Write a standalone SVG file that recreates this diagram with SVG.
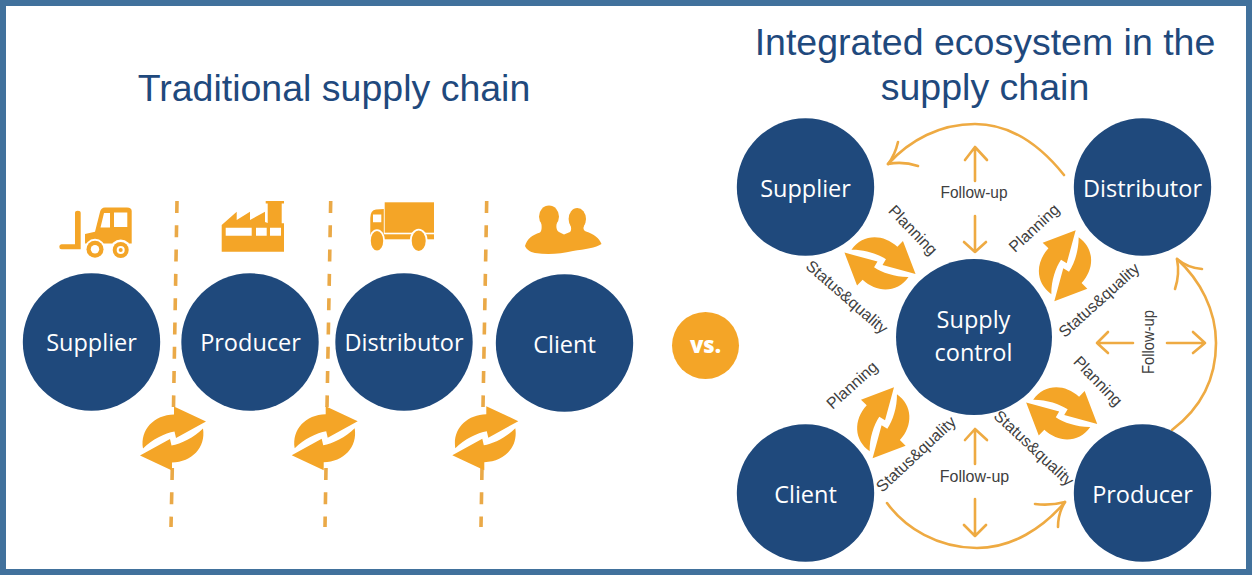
<svg xmlns="http://www.w3.org/2000/svg" width="1252" height="575" viewBox="0 0 1252 575">
  <style>
    .title { font: 37.5px "Liberation Sans", Arial, sans-serif; fill: #1f497d; text-anchor: middle; }
    .disc { fill: #1f497c; }
    .name { font: 23.5px "Open Sans", "Noto Sans", sans-serif; fill: #fff; text-anchor: middle; }
    .ico { fill: #f4a527; }
    .hole { fill: #fff; }
    .dash { fill: none; stroke: #eaa947; stroke-width: 3.6; stroke-dasharray: 12 12.3; }
    .line { fill: none; stroke: #eeaa42; stroke-width: 2.6; stroke-linecap: round; stroke-linejoin: round; }
    .lab { font: 16px "Liberation Sans", Arial, sans-serif; fill: #404040; text-anchor: middle; }
  </style>
  <defs>
    <!-- two interlocked arrows, centred on the origin -->
    <g id="cycle">
      <path id="half" class="ico" d="M-30 10C-33 -9 -19 -23.500 1 -24L1 -32L33 -17L3 -0.500L1.500 -7C-8 -5.500 -21 1 -30 10Z"/>
      <use href="#half" transform="rotate(180)"/>
    </g>
  </defs>

  <rect x="3" y="3" width="1246" height="569" fill="#fff" stroke="#41719c" stroke-width="6"/>

  <text class="title" x="334" y="101">Traditional supply chain</text>
  <text class="title" x="985" y="55">Integrated ecosystem in the</text>
  <text class="title" x="985" y="100">supply chain</text>

  <!-- dashed separators of the linear chain -->
  <g id="separators">
    <path class="dash" d="M177 201L173.500 407"/>
    <path class="dash" d="M172.300 468L171 527"/>
    <path class="dash" d="M330.700 201L327 407"/>
    <path class="dash" d="M326 468L325 527"/>
    <path class="dash" d="M486.700 201L483 407"/>
    <path class="dash" d="M482 468L481 527"/>
  </g>

  <g id="icon-forklift" class="ico">
    <path d="M75 213Q75 210.700 77.800 210.700Q80.700 210.700 80.700 213V249.300H61.500Q59.300 249.300 59.300 246.800Q59.300 244.300 61.500 244.300H75Z"/>
    <path fill-rule="evenodd" d="M85 234L95 231.700L100 212Q101 207.500 105 207.500H127Q131.700 207.500 131.700 211V243.500L85 243.500ZM100.500 227.500H110V213H104ZM114 227H127.300V212.500H114Z"/>
    <circle class="hole" cx="95" cy="249.300" r="10.500"/>
    <circle class="hole" cx="120.700" cy="250" r="10.500"/>
    <circle cx="95" cy="249.300" r="8.500"/>
    <circle class="hole" cx="95" cy="249.300" r="4.200"/>
    <circle cx="120.700" cy="250" r="8"/>
    <circle class="hole" cx="120.700" cy="250" r="4"/>
    <circle cx="120.700" cy="250" r="2"/>
  </g>
  <g id="icon-factory">
    <path class="ico" fill-rule="evenodd" d="M221.700 225L236.700 211.700V220L250 211.700V220L265 211.700V222L267.700 223V203.500H265.700V201H284V203.500H281.700V223.300H284V251.700H221.700ZM225.700 227.700V235.700H251.700V227.700ZM256 227.700V235.700H266.700V227.700ZM270 227.700V235.700H281V227.700Z"/>
  </g>
  <g id="icon-truck" class="ico">
    <rect x="384.700" y="202.300" width="49.300" height="30.400"/>
    <rect x="372" y="234.300" width="62" height="5"/>
    <path fill-rule="evenodd" d="M370.300 237V218Q370.300 210 376 209.500L383.800 209V237ZM373 214.500V222.300H381.300V214.500Z"/>
    <ellipse class="hole" cx="377" cy="240.700" rx="8" ry="11.500"/>
    <ellipse class="hole" cx="418.700" cy="240.700" rx="9" ry="12"/>
    <ellipse cx="377" cy="240.700" rx="6.200" ry="9.800"/>
    <ellipse cx="418.700" cy="240.700" rx="7" ry="10.300"/>
  </g>
  <g id="icon-people" class="ico">
    <ellipse cx="549" cy="216.500" rx="10" ry="11"/>
    <ellipse cx="577.300" cy="219" rx="8.700" ry="11"/>
    <path d="M525 246C527 239 532 235 540 232.500C542 231 542 226 541 222H557C556 226 556 230 559 232L564 234.500L570 232C572 230 571 226 570 224H584.500C583 228 583 230 586 231.500C594 234 599 238 601.500 244C596 248 585 249 573 251C560 254 548 255 535 253C530 252 526 249 525 246Z"/>
  </g>

  <!-- arrows shared by the two sides of the chain and the ecosystem ring -->
  <g id="connectors">
    <use href="#cycle" transform="translate(173 438.500)"/>
    <use href="#cycle" transform="translate(324.700 438.300)"/>
    <use href="#cycle" transform="translate(485.300 438.200)"/>
    <use href="#cycle" transform="translate(880 263.300) rotate(44)"/>
    <use href="#cycle" transform="translate(1065 265.700) rotate(-46)"/>
    <use href="#cycle" transform="translate(883.300 422.700) rotate(-46)"/>
    <use href="#cycle" transform="translate(1061.700 413.300) rotate(44)"/>

    <path class="line" d="M1064 175C1040 145 1010 124 975 124C940 124 910 140 888 164"/>
    <path class="line" d="M898 142Q895 155 888 164Q903 161 918 166"/>
    <path class="line" d="M887 503C905 528 938 548 977 548C1012 548 1043 528 1065 502"/>
    <path class="line" d="M1035 504Q1050 506 1065 502Q1058 513 1058 527"/>
    <path class="line" d="M1172 430C1205 405 1216 375 1216 343C1216 310 1200 280 1177 259"/>
    <path class="line" d="M1202 269Q1188 268 1177 259Q1180 274 1175 289"/>

    <path class="line" d="M975 181V147M965 160L975 147L987 160"/>
    <path class="line" d="M975 216V252M964 242L975 252L986 242"/>
    <path class="line" d="M975 464V429M965 440L975 429L987 440"/>
    <path class="line" d="M975 499V536M964 525L975 536L986 525"/>
    <path class="line" d="M1133 343H1097M1108 332L1097 343L1108 353"/>
    <path class="line" d="M1167 343H1205M1193 332L1205 343L1193 353"/>
  </g>

  <g id="ring-labels">
    <text class="lab" x="974" y="198" textLength="67" lengthAdjust="spacingAndGlyphs">Follow-up</text>
    <text class="lab" x="974.500" y="482">Follow-up</text>
    <text class="lab" transform="translate(1148 342) rotate(-90)" y="5.500" textLength="64" lengthAdjust="spacingAndGlyphs">Follow-up</text>
    <text class="lab" transform="translate(913 230) rotate(46)" y="5.500">Planning</text>
    <text class="lab" transform="translate(1034 228) rotate(-43)" y="5.500">Planning</text>
    <text class="lab" transform="translate(852 385) rotate(-42)" y="5.500">Planning</text>
    <text class="lab" transform="translate(1098 381) rotate(46)" y="5.500">Planning</text>
    <text class="lab" transform="translate(847 297) rotate(41)" y="5.500">Status&amp;quality</text>
    <text class="lab" transform="translate(1099 300) rotate(-42)" y="5.500">Status&amp;quality</text>
    <text class="lab" transform="translate(916 454) rotate(-43)" y="5.500">Status&amp;quality</text>
    <text class="lab" transform="translate(1034 448) rotate(43)" y="5.500">Status&amp;quality</text>
  </g>

  <g id="chain-supplier"><circle class="disc" cx="91.500" cy="342" r="68.700"/><text class="name" x="91.500" y="351">Supplier</text></g>
  <g id="chain-producer"><circle class="disc" cx="250" cy="342" r="68.700"/><text class="name" x="250.500" y="351">Producer</text></g>
  <g id="chain-distributor"><circle class="disc" cx="404" cy="342" r="68.700"/><text class="name" x="404" y="351">Distributor</text></g>
  <g id="chain-client"><circle class="disc" cx="564.500" cy="343" r="68.700"/><text class="name" x="564.500" y="353">Client</text></g>

  <g id="versus">
    <circle cx="705.500" cy="345.500" r="33.500" fill="#f4a527"/>
    <text x="705.500" y="353" font-family="'Open Sans', sans-serif" font-weight="800" font-size="22" fill="#fff" text-anchor="middle">vs.</text>
  </g>

  <g id="ring-supplier"><circle class="disc" cx="805.500" cy="187" r="68.700"/><text class="name" x="805.500" y="196.500">Supplier</text></g>
  <g id="ring-distributor"><circle class="disc" cx="1142.500" cy="187" r="68.700"/><text class="name" x="1142.500" y="196.500">Distributor</text></g>
  <g id="ring-control"><circle class="disc" cx="974" cy="337" r="78"/><text class="name" x="973.500" y="328">Supply</text><text class="name" x="973.500" y="361">control</text></g>
  <g id="ring-client"><circle class="disc" cx="805.500" cy="493" r="68.700"/><text class="name" x="805.500" y="503">Client</text></g>
  <g id="ring-producer"><circle class="disc" cx="1142.500" cy="493" r="68.700"/><text class="name" x="1142.500" y="503">Producer</text></g>
</svg>
